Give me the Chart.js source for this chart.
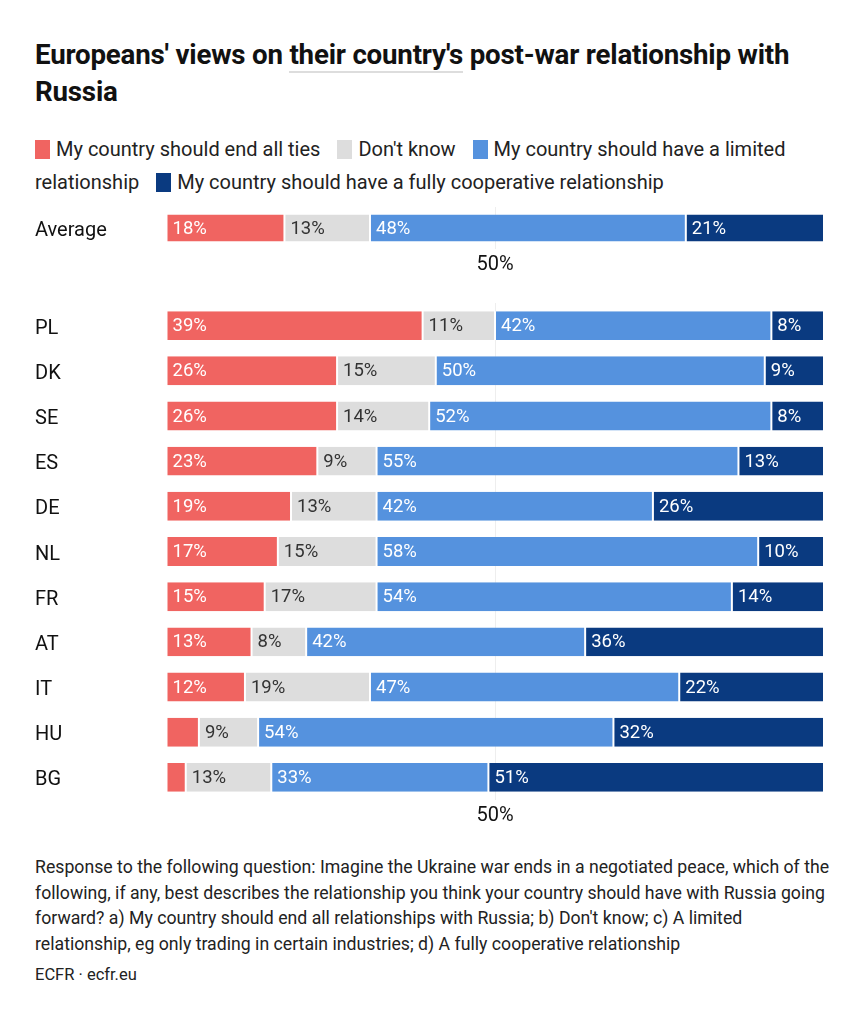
<!DOCTYPE html>
<html>
<head>
<meta charset="utf-8">
<script src="https://cdn.jsdelivr.net/npm/chart.js@4/dist/chart.umd.min.js"></script>
<style>
  body { margin: 0; background: #fff; font-family: Roboto, "Noto Sans", sans-serif; color: #111; }
  #page { position: relative; width: 860px; height: 1024px; }
  h1 { position: absolute; left: 35px; top: 36px; margin: 0; font-size: 27.7px; line-height: 37px;
       font-weight: 700; width: 800px; letter-spacing: -0.2px; }
  h1 .ul { border-bottom: 2px solid #ddd; }
  .legend { position: absolute; left: 35px; top: 133px; width: 800px; font-size: 20px; line-height: 33px; color: #222; }
  .legend .sw { display: inline-block; width: 15px; height: 19px; vertical-align: -3px; margin-right: 6px; }
  .legend .it { margin-right: 12px; }
  .box { position: absolute; left: 35px; width: 793px; }
  .note { position: absolute; left: 35px; top: 855px; width: 805px; font-size: 17.7px; line-height: 25.7px; color: #222; }
  .src { position: absolute; left: 35px; top: 965px; font-size: 16.5px; color: #222; }
</style>
</head>
<body>
<div id="page">
  <h1>Europeans' views on <span class="ul">their country's</span> post-war relationship with<br>Russia</h1>
  <div class="legend" id="legend"></div>
  <div class="box" style="top:195px;height:86px"><canvas id="avg"></canvas></div>
  <div class="box" style="top:291px;height:541px"><canvas id="countries"></canvas></div>
  <div class="note">Response to the following question: Imagine the Ukraine war ends in a negotiated peace, which of the following, if any, best describes the relationship you think your country should have with Russia going forward? a) My country should end all relationships with Russia; b) Don't know; c) A limited relationship, eg only trading in certain industries; d) A fully cooperative relationship</div>
  <div class="src">ECFR · ecfr.eu</div>
</div>
<script>
// series names
const seriesNames = [
  'My country should end all ties',
  "Don't know",
  'My country should have a limited relationship',
  'My country should have a fully cooperative relationship'
];
const colors = ['#f06461', '#dddddd', '#5592de', '#0a3a80'];
const labelColors = ['#fff', '#333', '#fff', '#fff'];

// average row
const avgLabel = ['Average'];
const avgEnd = [18];
const avgDontKnow = [13];
const avgLimited = [48];
const avgCoop = [21];

// country rows
const countries = ['PL', 'DK', 'SE', 'ES', 'DE', 'NL', 'FR', 'AT', 'IT', 'HU', 'BG'];
const endTies =     [39, 26, 26, 23, 19, 17, 15, 13, 12, 5, 3];
const dontKnow =    [11, 15, 14, 9, 13, 15, 17, 8.3, 19, 9, 13];
const limited =     [42, 50, 52, 55, 42, 58, 54, 42.4, 47, 54, 33];
const cooperative = [8, 9, 8, 13, 26, 10, 14, 36.3, 22, 32, 51];

// --- legend ---
const leg = document.getElementById('legend');
seriesNames.forEach((n, i) => {
  const s = document.createElement('span');
  s.className = 'it';
  s.innerHTML = '<span class="sw" style="background:' + colors[i] + '"></span>' + n;
  leg.appendChild(s);
  leg.appendChild(document.createTextNode(' '));
});

// --- labels inside the bars ---
const barLabels = {
  id: 'barLabels',
  afterDatasetsDraw(chart) {
    const ctx = chart.ctx;
    ctx.save();
    ctx.font = '18.5px Roboto';
    ctx.textBaseline = 'middle';
    chart.data.datasets.forEach((ds, di) => {
      const meta = chart.getDatasetMeta(di);
      meta.data.forEach((bar, i) => {
        const v = ds.data[i];
        if (v < 6) return;
        const left = Math.min(bar.x, bar.base);
        ctx.fillStyle = labelColors[di];
        ctx.fillText(Math.round(v) + '%', left + 6, bar.y + 1);
      });
    });
    ctx.restore();
  }
};

function makeChart(id, labels, series) {
  return new Chart(document.getElementById(id), {
    type: 'bar',
    data: {
      labels: labels,
      datasets: series.map((d, i) => ({
        label: seriesNames[i],
        data: d,
        backgroundColor: colors[i],
        borderColor: '#fff',
        borderWidth: { left: 1, right: 1 },
        borderSkipped: false,
        barPercentage: 0.8,
        categoryPercentage: 0.8
      }))
    },
    options: {
      indexAxis: 'y',
      responsive: true,
      maintainAspectRatio: false,
      animation: false,
      layout: { padding: 0 },
      plugins: { legend: { display: false }, tooltip: { enabled: false } },
      scales: {
        x: {
          stacked: true,
          min: 0,
          max: 100,
          border: { display: false },
          grid: {
            drawTicks: false,
            color: c => (c.tick && c.tick.value === 50 ? '#eeeeee' : 'rgba(0,0,0,0)')
          },
          ticks: {
            stepSize: 50,
            padding: 4,
            color: '#111',
            font: { family: 'Roboto', size: 20 },
            callback: v => (v === 50 ? '50%' : '')
          }
        },
        y: {
          stacked: true,
          border: { display: false },
          grid: { display: false, drawTicks: false },
          ticks: {
            crossAlign: 'far',
            padding: 0,
            labelOffset: 3,
            color: '#111',
            font: { family: 'Roboto', size: 20 }
          },
          afterFit: s => { s.width = 131; }
        }
      }
    },
    plugins: [barLabels]
  });
}

makeChart('avg', avgLabel, [avgEnd, avgDontKnow, avgLimited, avgCoop]);
makeChart('countries', countries, [endTies, dontKnow, limited, cooperative]);
</script>
</body>
</html>
